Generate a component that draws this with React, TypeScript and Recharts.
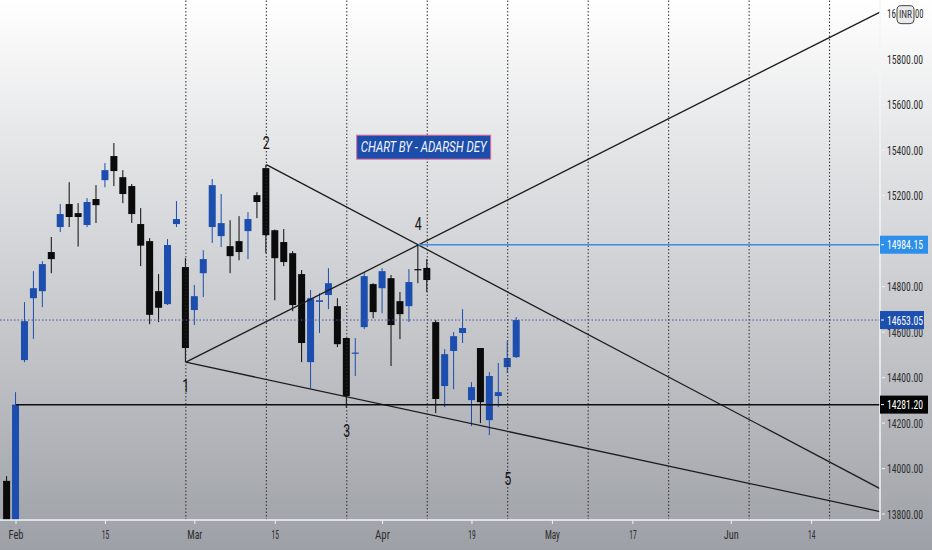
import React from 'react';
import { ComposedChart, Bar, XAxis, YAxis, ReferenceLine, ReferenceDot } from 'recharts';

// daily candles, Jan 29 -> Apr 27 (bar index = position - 1, Feb 1 = 0)
const dates = [
  '01-29', '02-01', '02-02', '02-03', '02-04', '02-05', '02-08', '02-09', '02-10', '02-11', '02-12',
  '02-15', '02-16', '02-17', '02-18', '02-19', '02-22', '02-23', '02-24', '02-25', '02-26',
  '03-01', '03-02', '03-03', '03-04', '03-05', '03-08', '03-09', '03-10', '03-12',
  '03-15', '03-16', '03-17', '03-18', '03-19', '03-22', '03-23', '03-24', '03-25', '03-26',
  '03-30', '03-31', '04-01', '04-05', '04-06', '04-07', '04-08', '04-09', '04-12', '04-13',
  '04-15', '04-16', '04-19', '04-20', '04-22', '04-23', '04-26', '04-27',
];
const opens = [
  13946, 13758, 14477, 14749, 14780, 14952, 15062, 15163, 15123, 15071, 15185,
  15268, 15374, 15281, 15242, 15075, 15000, 14780, 14723, 15075, 14886,
  14697, 14859, 15062, 15022, 14978, 15000, 15044, 15202, 15321,
  15048, 14996, 14947, 14855, 14468, 14733, 14763, 14714, 14574, 14505,
  14622, 14811, 14793, 14837, 14736, 14714, 14877, 14882, 14644, 14363,
  14517, 14596, 14301, 14530, 14213, 14319, 14446, 14490,
];
const highs = [
  13967, 14336, 14732, 14868, 14912, 15018, 15163, 15259, 15167, 15189, 15246,
  15343, 15431, 15312, 15251, 15145, 15013, 14855, 15009, 15176, 14925,
  14807, 14960, 15273, 15207, 15092, 15110, 15127, 15215, 15336,
  15051, 15053, 14956, 14873, 14785, 14771, 14881, 14749, 14576, 14574,
  14864, 14815, 14881, 14851, 14776, 14877, 14984.15, 14921, 14653, 14525,
  14600, 14701, 14380, 14530, 14424, 14464, 14560, 14666,
];
const lows = [
  13597, 13662, 14468, 14570, 14710, 14859, 15040, 15062, 14976, 15062, 15080,
  15237, 15242, 15167, 15080, 14890, 14635, 14644, 14719, 15062, 14467.75,
  14631, 14754, 14992, 14974, 14859, 14916, 14921, 15101, 14947,
  14740, 14890, 14692, 14468, 14352, 14596, 14701, 14534, 14266, 14407,
  14613, 14661, 14683, 14451, 14569, 14644, 14815, 14776, 14244, 14270,
  14349, 14552, 14187, 14200, 14147, 14270, 14420, 14486,
];
const closes = [
  13635, 14281.2, 14648, 14793, 14899, 14921, 15119, 15106, 15106, 15172, 15158,
  15312, 15308, 15207, 15119, 14980, 14676, 14707, 14983, 15097, 14530,
  14758, 14921, 15246, 15079, 14934, 14952, 15097, 15172, 15026,
  14925, 14908, 14719, 14552, 14749, 14740, 14815, 14547, 14319, 14510,
  14846, 14688, 14868, 14631, 14679, 14820, 14873, 14829, 14306, 14503,
  14582, 14618, 14358, 14292, 14407, 14336, 14486, 14653.05,
];

const xTickValues = [0, 10, 20, 29, 41, 51, 60, 69, 80, 89];
const xTickLabels = ['Feb', '15', 'Mar', '15', 'Apr', '19', 'May', '17', 'Jun', '14'];
const yTicks = [13800, 14000, 14200, 14400, 14600, 14800, 15000, 15200, 15400, 15600, 15800, 16000];

// drawn objects
const cycleLines = [19, 28, 37, 46, 55, 64, 73, 82, 91];
const waveLabels = ['1', '2', '3', '4', '5'];
const waveX = [19, 28, 37, 45, 55];
const waveY = [14365, 15435, 14167, 15078, 13956];
const trendFrom = [
  { x: 19, y: 14467.75 },
  { x: 28, y: 15336 },
  { x: 19, y: 14467.75 },
];
const trendTo = [
  { x: 96.64, y: 16007 },
  { x: 96.64, y: 13912 },
  { x: 96.64, y: 13811 },
];
const supportLevel = 14281.2;
const supportStart = 0;
const resistanceLevel = 14984.15;
const resistanceStart = 45;
const lastClose = 14653.05;
const tagLevels = [resistanceLevel, lastClose, supportLevel];
const noteText = 'CHART BY - ADARSH DEY';
const notePos = { x: 45.6, y: 15413 };

const X_MIN = -1.79;
const X_MAX = 96.64;
const Y_MIN = 13774;
const Y_MAX = 16060;

const BLUE = '#1b4eae';
const BLACK = '#0b0b0b';
const TICK_FONT = "'Liberation Sans Narrow', 'Roboto Condensed', Roboto, sans-serif";

const candles = dates.map((d, k) => ({
  i: k - 1,
  date: d,
  open: opens[k],
  high: highs[k],
  low: lows[k],
  close: closes[k],
  range: [lows[k], highs[k]],
}));

const Candle = (props: any) => {
  const { x, y, width, height, payload } = props;
  if (x == null || y == null) return null;
  const { open, close, high, low } = payload;
  const color = close >= open ? BLUE : BLACK;
  const span = high - low || 1;
  const yOf = (v: number) => y + ((high - v) / span) * height;
  const top = yOf(Math.max(open, close));
  const bot = yOf(Math.min(open, close));
  const cx = x + width / 2;
  const bw = 7;
  return (
    <g>
      <line x1={cx} x2={cx} y1={y} y2={y + height} stroke={color} strokeWidth={1} />
      <rect x={cx - bw / 2} y={top} width={bw} height={Math.max(bot - top, 1.2)} fill={color} />
    </g>
  );
};

const XTick = (props: any) => {
  const { x, y, payload } = props;
  const label = xTickLabels[xTickValues.indexOf(payload.value)];
  const w = /^\d+$/.test(label) ? label.length * 3.7 : label.length * 5;
  return (
    <g>
      <line x1={x} x2={x} y1={y - 6} y2={y - 2} stroke="#f2f3f5" strokeWidth={1} />
      <text
        x={x - w / 2}
        y={y + 13}
        fontSize={12.5}
        fontFamily={TICK_FONT}
        fill="#2d2d2d"
        textLength={w}
        lengthAdjust="spacingAndGlyphs"
      >
        {label}
      </text>
    </g>
  );
};

const tickText = (x: number, y: number, s: string, w: number) => (
  <text
    x={x}
    y={y + 4.5}
    fontSize={12.5}
    fontFamily={TICK_FONT}
    fill="#2d2d2d"
    textLength={w}
    lengthAdjust="spacingAndGlyphs"
  >
    {s}
  </text>
);

const YTick = (props: any) => {
  const { x, y, payload } = props;
  const v = payload.value as number;
  // labels lying under a price tag are hidden, as on the reference
  const hidden = tagLevels.some((t) => Math.abs(t - v) < 30);
  const label = v.toFixed(2);
  return (
    <g>
      <line x1={x - 5} x2={x - 2} y1={y} y2={y} stroke="#f2f3f5" strokeWidth={1} />
      {!hidden && v !== 16000 && tickText(x, y, label, 36)}
      {v === 16000 && (
        <g>
          {tickText(x, y, label.slice(0, 2), 9)}
          {tickText(x + 28, y, label.slice(3, 5), 8.5)}
          <rect x={x + 10} y={y - 8} width={17} height={18} rx={4} fill="#e9eaec" stroke="#444" strokeWidth={1} />
          <text
            x={x + 12}
            y={y + 4.5}
            fontSize={11}
            fontFamily={TICK_FONT}
            fill="#333"
            textLength={13}
            lengthAdjust="spacingAndGlyphs"
          >
            INR
          </text>
        </g>
      )}
    </g>
  );
};

const priceTag = (value: number, bg: string, w: number) => (p: any) => (
  <g>
    <rect x={p.cx} y={p.cy - 9} width={w} height={18} fill={bg} />
    <line x1={p.cx + 1} x2={p.cx + 4} y1={p.cy} y2={p.cy} stroke="#fff" strokeWidth={1} />
    <text
      x={p.cx + 7}
      y={p.cy + 4.5}
      fontSize={12.5}
      fontFamily={TICK_FONT}
      fill="#fff"
      textLength={36}
      lengthAdjust="spacingAndGlyphs"
    >
      {value.toFixed(2)}
    </text>
  </g>
);

const waveMark = (label: string) => (p: any) => (
  <text
    x={p.cx - 3.5}
    y={p.cy}
    dominantBaseline="central"
    fontSize={18}
    fontFamily="Roboto, sans-serif"
    fill="#151515"
    textLength={7}
    lengthAdjust="spacingAndGlyphs"
  >
    {label}
  </text>
);

const noteBox = (p: any) => (
  <g>
    <rect x={p.cx - 67} y={p.cy - 12} width={134} height={24} fill="#1c4dab" stroke="#e46a9e" strokeWidth={1} />
    <text
      x={p.cx - 63}
      y={p.cy + 5}
      fontSize={14}
      fontStyle="italic"
      fontFamily="Roboto, sans-serif"
      fill="#f4f6ff"
      textLength={126}
      lengthAdjust="spacingAndGlyphs"
    >
      {noteText}
    </text>
  </g>
);

export default function App() {
  return (
    <div
      style={{
        position: 'fixed',
        left: 0,
        top: 0,
        width: 932,
        height: 550,
        background: 'linear-gradient(#ffffff 0%, #e1e2e4 30%, #c3c5c9 62%, #9da0a6 100%)',
      }}
    >
      <ComposedChart width={932} height={550} data={candles} margin={{ top: 0, right: 0, bottom: 0, left: 0 }}>
        <XAxis
          dataKey="i"
          type="number"
          domain={[X_MIN, X_MAX]}
          allowDataOverflow
          ticks={xTickValues}
          interval={0}
          height={30}
          tickSize={4}
          tickMargin={2}
          tickLine={false}
          axisLine={{ stroke: '#f3f4f6', strokeWidth: 1.5 }}
          tick={<XTick />}
        />
        <YAxis
          orientation="right"
          type="number"
          domain={[Y_MIN, Y_MAX]}
          allowDataOverflow
          ticks={yTicks}
          interval={0}
          width={52}
          tickSize={5}
          tickMargin={2}
          tickLine={false}
          axisLine={{ stroke: '#f3f4f6', strokeWidth: 1.5 }}
          tick={<YTick />}
        />

        {cycleLines.map((x) => (
          <ReferenceLine key={`c${x}`} x={x} stroke="#2a2a2a" strokeDasharray="1.5 2" strokeWidth={1} />
        ))}
        <ReferenceLine y={lastClose} stroke="#4b55a0" strokeDasharray="1.5 2" strokeWidth={1} />

        <Bar dataKey="range" barSize={8} shape={<Candle />} isAnimationActive={false} />

        {trendFrom.map((a, k) => (
          <ReferenceLine
            key={`t${k}`}
            segment={[a, trendTo[k]]}
            stroke="#1c1c1c"
            strokeWidth={1.3}
            ifOverflow="visible"
          />
        ))}
        <ReferenceLine
          segment={[{ x: supportStart, y: supportLevel }, { x: X_MAX, y: supportLevel }]}
          stroke="#0d0d0d"
          strokeWidth={1.5}
          ifOverflow="visible"
        />
        <ReferenceLine
          segment={[{ x: resistanceStart, y: resistanceLevel }, { x: X_MAX, y: resistanceLevel }]}
          stroke="#3a8ee6"
          strokeWidth={1.3}
          ifOverflow="visible"
        />

        {waveLabels.map((l, k) => (
          <ReferenceDot key={`w${l}`} x={waveX[k]} y={waveY[k]} r={0} shape={waveMark(l)} ifOverflow="visible" />
        ))}
        <ReferenceDot x={notePos.x} y={notePos.y} r={0} shape={noteBox} ifOverflow="visible" />

        <ReferenceDot x={X_MAX} y={resistanceLevel} r={0} shape={priceTag(resistanceLevel, '#2e8fea', 48)} ifOverflow="visible" zIndex={2000} />
        <ReferenceDot x={X_MAX} y={lastClose} r={0} shape={priceTag(lastClose, '#1c4fae', 44)} ifOverflow="visible" zIndex={2000} />
        <ReferenceDot x={X_MAX} y={supportLevel} r={0} shape={priceTag(supportLevel, '#050505', 48)} ifOverflow="visible" zIndex={2000} />
      </ComposedChart>
    </div>
  );
}
